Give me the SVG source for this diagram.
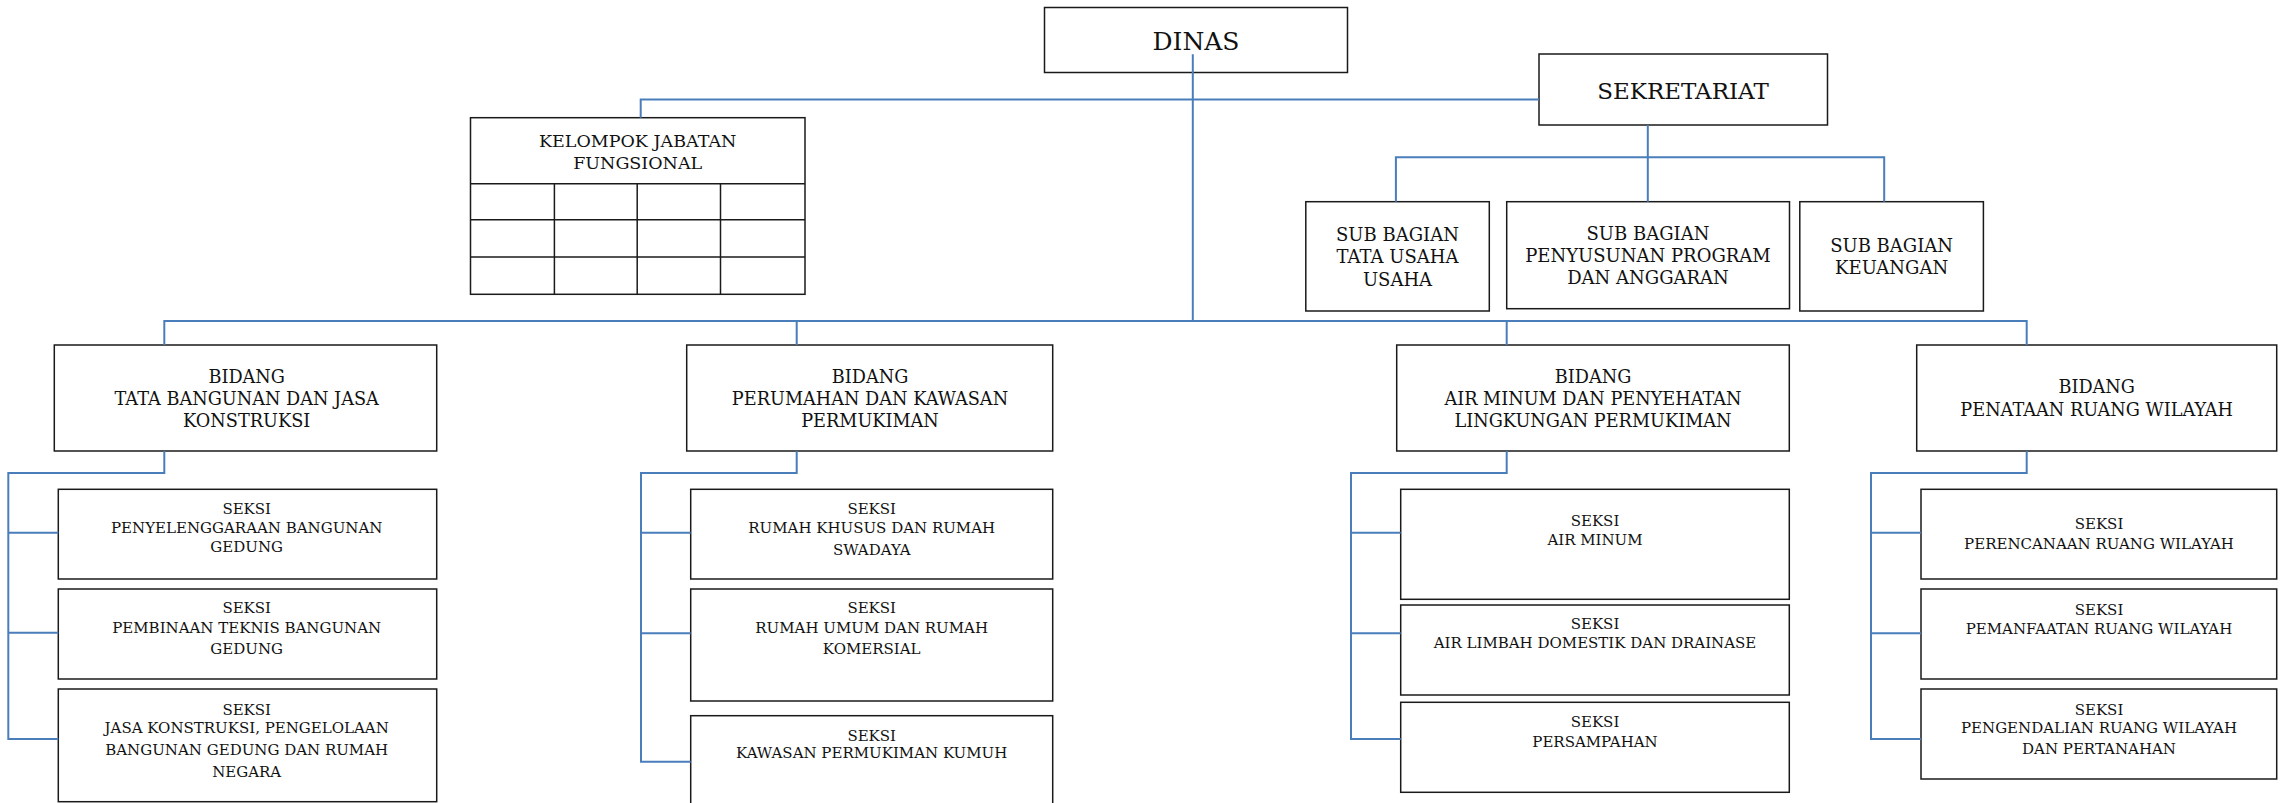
<svg xmlns="http://www.w3.org/2000/svg" width="2290" height="803" viewBox="0 0 2290 803">
<style>
rect.b{fill:#fff;stroke:#1a1a1a;stroke-width:1.5}
line.g{stroke:#1a1a1a;stroke-width:1.5}
text{font-family:"DejaVu Serif","Liberation Serif",serif;fill:#111;text-anchor:middle}
.t1{font-size:25px}
.t2{font-size:23px}
.t3{font-size:18px}
.t4{font-size:17.5px}
.t5{font-size:17.7px}
.t6{font-size:15px}
#connectors path{fill:none;stroke:#4A7EBB;stroke-width:2}
</style>
<rect width="2290" height="803" fill="#fff"/>
<g id="n-dinas"><rect class="b" x="1044.5" y="7.5" width="303" height="65"/><text class="t1" x="1196" y="50">DINAS</text></g>
<g id="n-sekretariat"><rect class="b" x="1539" y="54" width="288.5" height="71"/><text class="t2" x="1683" y="99">SEKRETARIAT</text></g>
<g id="n-kelompok"><rect class="b" x="470.5" y="117.7" width="334.5" height="176.6"/>
<line class="g" x1="470.5" y1="183.7" x2="805" y2="183.7"/><line class="g" x1="470.5" y1="219.7" x2="805" y2="219.7"/><line class="g" x1="470.5" y1="257" x2="805" y2="257"/>
<line class="g" x1="554.4" y1="183.7" x2="554.4" y2="294.3"/><line class="g" x1="637.2" y1="183.7" x2="637.2" y2="294.3"/><line class="g" x1="720.5" y1="183.7" x2="720.5" y2="294.3"/>
<text class="t4" x="637.7" y="146.7">KELOMPOK JABATAN</text><text class="t4" x="637.7" y="169">FUNGSIONAL</text></g>
<g id="n-sub-tu"><rect class="b" x="1305.8" y="201.7" width="183.5" height="109.3"/><text class="t3" x="1397.5" y="240.7">SUB BAGIAN</text><text class="t3" x="1397.5" y="262.7">TATA USAHA</text><text class="t3" x="1397.5" y="285.7">USAHA</text></g>
<g id="n-sub-pp"><rect class="b" x="1506.7" y="201.7" width="282.8" height="107"/><text class="t3" x="1648" y="240">SUB BAGIAN</text><text class="t3" x="1648" y="261.7">PENYUSUNAN PROGRAM</text><text class="t3" x="1648" y="284.3">DAN ANGGARAN</text></g>
<g id="n-sub-keu"><rect class="b" x="1799.8" y="201.7" width="183.6" height="109.3"/><text class="t3" x="1891.6" y="251.7">SUB BAGIAN</text><text class="t3" x="1891.6" y="274.3">KEUANGAN</text></g>

<g id="n-bidang-1"><rect class="b" x="54.3" y="345" width="382.4" height="106"/><text class="t5" x="246.7" y="383.3">BIDANG</text><text class="t5" x="246.7" y="405">TATA BANGUNAN DAN JASA</text><text class="t5" x="246.7" y="426.7">KONSTRUKSI</text></g>
<g id="n-bidang-2"><rect class="b" x="686.7" y="345" width="366" height="106"/><text class="t5" x="870" y="383.3">BIDANG</text><text class="t5" x="870" y="405">PERUMAHAN DAN KAWASAN</text><text class="t5" x="870" y="426.7">PERMUKIMAN</text></g>
<g id="n-bidang-3"><rect class="b" x="1396.7" y="345" width="392.6" height="106"/><text class="t5" x="1593" y="383.3">BIDANG</text><text class="t5" x="1593" y="405">AIR MINUM DAN PENYEHATAN</text><text class="t5" x="1593" y="426.7">LINGKUNGAN PERMUKIMAN</text></g>
<g id="n-bidang-4"><rect class="b" x="1916.7" y="345" width="360" height="106"/><text class="t5" x="2096.7" y="393.3">BIDANG</text><text class="t5" x="2096.7" y="416">PENATAAN RUANG WILAYAH</text></g>

<g id="n-seksi-1a"><rect class="b" x="58.3" y="489.3" width="378.4" height="89.7"/><text class="t6" x="246.7" y="514">SEKSI</text><text class="t6" x="246.7" y="532.7">PENYELENGGARAAN BANGUNAN</text><text class="t6" x="246.7" y="551.7">GEDUNG</text></g>
<g id="n-seksi-1b"><rect class="b" x="58.3" y="589" width="378.4" height="90"/><text class="t6" x="246.7" y="613.3">SEKSI</text><text class="t6" x="246.7" y="633.3">PEMBINAAN TEKNIS BANGUNAN</text><text class="t6" x="246.7" y="654.3">GEDUNG</text></g>
<g id="n-seksi-1c"><rect class="b" x="58.3" y="689" width="378.4" height="112.7"/><text class="t6" x="246.7" y="715">SEKSI</text><text class="t6" x="246.7" y="733.3">JASA KONSTRUKSI, PENGELOLAAN</text><text class="t6" x="246.7" y="755">BANGUNAN GEDUNG DAN RUMAH</text><text class="t6" x="246.7" y="776.7">NEGARA</text></g>

<g id="n-seksi-2a"><rect class="b" x="690.7" y="489.3" width="362" height="89.7"/><text class="t6" x="871.7" y="514">SEKSI</text><text class="t6" x="871.7" y="532.7">RUMAH KHUSUS DAN RUMAH</text><text class="t6" x="871.7" y="555">SWADAYA</text></g>
<g id="n-seksi-2b"><rect class="b" x="690.7" y="589" width="362" height="112"/><text class="t6" x="871.7" y="613.3">SEKSI</text><text class="t6" x="871.7" y="632.7">RUMAH UMUM DAN RUMAH</text><text class="t6" x="871.7" y="654.3">KOMERSIAL</text></g>
<g id="n-seksi-2c"><rect class="b" x="690.7" y="715.7" width="362" height="100"/><text class="t6" x="871.7" y="740.7">SEKSI</text><text class="t6" x="871.7" y="758.3">KAWASAN PERMUKIMAN KUMUH</text></g>

<g id="n-seksi-3a"><rect class="b" x="1400.7" y="489.3" width="388.6" height="110"/><text class="t6" x="1595" y="525.7">SEKSI</text><text class="t6" x="1595" y="545">AIR MINUM</text></g>
<g id="n-seksi-3b"><rect class="b" x="1400.7" y="605" width="388.6" height="90"/><text class="t6" x="1595" y="629.3">SEKSI</text><text class="t6" x="1595" y="648.3">AIR LIMBAH DOMESTIK DAN DRAINASE</text></g>
<g id="n-seksi-3c"><rect class="b" x="1400.7" y="702.3" width="388.6" height="90"/><text class="t6" x="1595" y="727.3">SEKSI</text><text class="t6" x="1595" y="746.7">PERSAMPAHAN</text></g>

<g id="n-seksi-4a"><rect class="b" x="1921" y="489.3" width="355.7" height="89.7"/><text class="t6" x="2099" y="529.3">SEKSI</text><text class="t6" x="2099" y="548.7">PERENCANAAN RUANG WILAYAH</text></g>
<g id="n-seksi-4b"><rect class="b" x="1921" y="589" width="355.7" height="90"/><text class="t6" x="2099" y="615.3">SEKSI</text><text class="t6" x="2099" y="634.3">PEMANFAATAN RUANG WILAYAH</text></g>
<g id="n-seksi-4c"><rect class="b" x="1921" y="689" width="355.7" height="90"/><text class="t6" x="2099" y="715">SEKSI</text><text class="t6" x="2099" y="733.3">PENGENDALIAN RUANG WILAYAH</text><text class="t6" x="2099" y="754.3">DAN PERTANAHAN</text></g>

<g id="connectors">
<path d="M1192.8 54.3V321"/>
<path d="M640.7 117.7V99.5H1539"/>
<path d="M1647.8 125V201.7M1395.9 201.7V157.3H1884.2V201.7"/>
<path d="M164.3 345V321H2026.7V345M796.7 321V345M1506.7 321V345"/>
<path d="M164.3 451V473H8.3V739H58.3M8.3 532.7H58.3M8.3 632.7H58.3"/>
<path d="M796.7 451V473H641V761.7H690.7M641 532.7H690.7M641 633.3H690.7"/>
<path d="M1506.7 451V473H1351V739H1400.7M1351 532.7H1400.7M1351 633.3H1400.7"/>
<path d="M2026.7 451V473H1871V739H1921M1871 532.7H1921M1871 633.3H1921"/>
</g>
</svg>
